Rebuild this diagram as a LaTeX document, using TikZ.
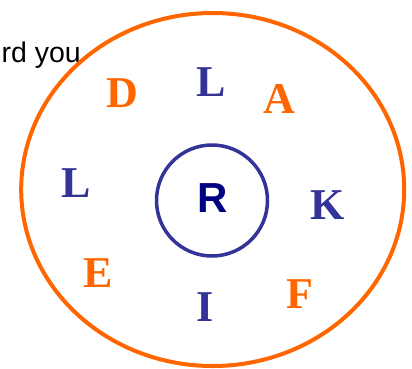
\documentclass[tikz,border=0pt]{standalone}
\usepackage{fontspec}
\usetikzlibrary{shapes.geometric}
\setmainfont{Liberation Serif}
\setsansfont{Liberation Sans}
\definecolor{orng}{HTML}{FF6600}
\definecolor{blu}{HTML}{333399}
\definecolor{navy}{HTML}{000080}
\tikzset{
  letter/.style={inner sep=0pt, anchor=base, font=\fontsize{44}{44}\selectfont\bfseries},
  oletter/.style={letter, text=orng},
  bletter/.style={letter, text=blu},
}
\begin{document}
\begin{tikzpicture}[x=1pt,y=1pt]
\useasboundingbox (0,0) rectangle (412,-368);
\node[inner sep=0pt, anchor=base east, font=\sffamily\fontsize{28.5}{28.5}\selectfont] (txt) at (81,-62.5) {rd you};
\node[draw=orng, line width=4pt, ellipse, minimum width=383pt, minimum height=353pt, inner sep=0pt] (outer) at (212.7,-189.5) {};
\node[draw=blu, line width=3.5pt, circle, minimum size=111pt, inner sep=0pt] (inner) at (212,-200.5) {};
\node[inner sep=0pt, anchor=base, text=navy, font=\sffamily\bfseries\fontsize{42}{42}\selectfont] (R) at (212.7,-212.7) {R};
\node[oletter] (D) at (122,-107) {D};
\node[bletter] (L1) at (211,-96) {L};
\node[oletter] (A) at (279,-113) {A};
\node[bletter] (L2) at (76,-197) {L};
\node[bletter] (K) at (327.5,-219) {K};
\node[oletter] (E) at (98,-287) {E};
\node[bletter] (I) at (205,-321) {I};
\node[oletter] (F) at (300,-308) {F};
\end{tikzpicture}
\end{document}
